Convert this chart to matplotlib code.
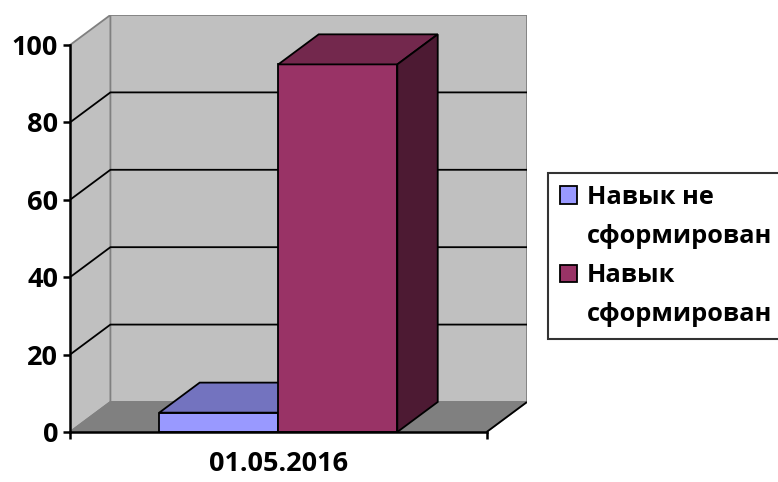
import matplotlib
matplotlib.use("Agg")
import matplotlib.pyplot as plt
from matplotlib.patches import Polygon, Patch

plt.rcParams['font.family'] = ['Open Sans', 'DejaVu Sans']
plt.rcParams['font.weight'] = 'bold'

# ---- data ----
category = "01.05.2016"
series_names = ["Навык не\nсформирован", "Навык\nсформирован"]
series_values = [5, 95]
y_ticks = [0, 20, 40, 60, 80, 100]

# ---- styles ----
front_cols = ["#9999FF", "#993366"]
top_cols = ["#7373BF", "#73284D"]
side_cols = ["#4D4D80", "#4D1A33"]
wall_col = "#C0C0C0"
floor_col = "#808080"
edge_gray = "#808080"
FS_AX = 19.5
FS_LEG = 18.3

W, H = 778, 482
fig = plt.figure(figsize=(W / 100, H / 100), dpi=100)
ax = fig.add_axes([70 / W, 50 / H, 457 / W, 417 / H])

ymax = 100
dx, dy = 0.097, 7.76          # depth offset in data units
ax.set_xlim(-0.5, 0.5 + dx)
ax.set_ylim(0, ymax + dy)
ax.set_facecolor('none')

lw = 1.3

def poly(pts, fc, ec='black', z=1, lwd=lw):
    ax.add_patch(Polygon(pts, closed=True, facecolor=fc, edgecolor=ec,
                         linewidth=lwd, zorder=z, joinstyle='miter'))

# back wall
poly([(-0.5 + dx, dy), (0.5 + dx, dy), (0.5 + dx, ymax + dy), (-0.5 + dx, ymax + dy)],
     wall_col, ec=edge_gray, z=1)
# left side wall
poly([(-0.5, 0), (-0.5 + dx, dy), (-0.5 + dx, ymax + dy), (-0.5, ymax)],
     wall_col, ec=edge_gray, z=1)
# floor
poly([(-0.5, 0), (0.5, 0), (0.5 + dx, dy), (-0.5 + dx, dy)], floor_col, ec=edge_gray, z=1)
ax.plot([0.5, 0.5 + dx], [0, dy], color='black', lw=lw, zorder=2, solid_capstyle='butt')

# gridlines
for v in y_ticks[1:-1]:
    ax.plot([-0.5, -0.5 + dx, 0.5 + dx], [v, v + dy, v + dy], color='black', lw=lw, zorder=2)

# bars
n = len(series_values)
w = 1 / (n + 1.5)
x_start = -0.5 + 0.75 * w
for i, val in enumerate(series_values):
    x0 = x_start + i * w
    x1 = x0 + w
    z = 3 + i
    poly([(x0, 0), (x1, 0), (x1, val), (x0, val)], front_cols[i], z=z)
    poly([(x0, val), (x1, val), (x1 + dx, val + dy), (x0 + dx, val + dy)], top_cols[i], z=z)
    poly([(x1, 0), (x1 + dx, dy), (x1 + dx, val + dy), (x1, val)], side_cols[i], z=z)

# axes / spines
for s in ['top', 'right']:
    ax.spines[s].set_visible(False)
ax.spines['left'].set_bounds(0, ymax)
ax.spines['bottom'].set_bounds(-0.5, 0.5)
for s in ['left', 'bottom']:
    ax.spines[s].set_linewidth(1.8)
    ax.spines[s].set_zorder(10)

ax.set_yticks(y_ticks)
ax.set_yticklabels([str(t) for t in y_ticks], fontsize=FS_AX, fontweight='bold')
ax.tick_params(axis='y', direction='out', length=5, width=1.8, pad=3.5)
ax.set_xticks([-0.5, 0.5])
ax.set_xticklabels(['', ''])
ax.tick_params(axis='x', which='major', direction='out', length=5, width=1.8)
ax.set_xticks([0], minor=True)
ax.set_xticklabels([category], minor=True, fontsize=FS_AX, fontweight='bold')
ax.tick_params(axis='x', which='minor', length=0, pad=14)

# legend
handles, labels = [], []
for i, name in enumerate(series_names):
    parts = name.split("\n")
    handles.append(Patch(facecolor=front_cols[i], edgecolor='black', linewidth=1.3))
    labels.append(parts[0])
    for p in parts[1:]:
        handles.append(Patch(facecolor='none', edgecolor='none'))
        labels.append(p)
leg = fig.legend(handles, labels, loc='upper left',
                 bbox_to_anchor=(548 / W, 1 - 173 / H), borderaxespad=0,
                 fancybox=False, frameon=True, edgecolor='black',
                 prop={'size': FS_LEG, 'weight': 'bold'},
                 handlelength=0.68, handleheight=0.68, handletextpad=0.4,
                 labelspacing=0.56, borderpad=0.46)
leg.get_frame().set_linewidth(1.5)

fig.savefig("out.png", dpi=100)
